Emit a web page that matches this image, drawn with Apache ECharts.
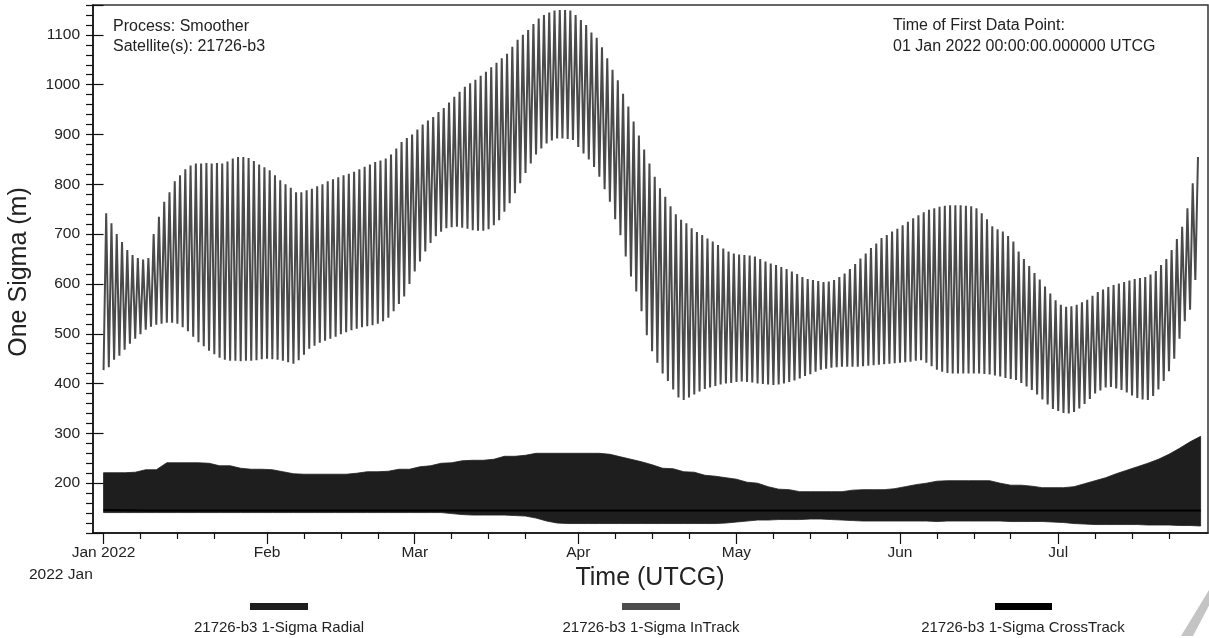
<!DOCTYPE html>
<html><head><meta charset="utf-8">
<script src="https://cdn.jsdelivr.net/npm/echarts@6/dist/echarts.min.js"></script>
<style>html,body{margin:0;padding:0;background:#fff}#c{width:1209px;height:638px}</style>
</head><body><div id="c"></div>
<script>
// ---- axis ticks / labels (x in days since 01 Jan 2022) ----
const monthTickDays = [0, 31, 59, 90, 120, 151, 181];
const monthLabels = ['Jan 2022', 'Feb', 'Mar', 'Apr', 'May', 'Jun', 'Jul'];
const weekTickDays = [7,14,21, 38,45,52, 66,73,80, 97,104,111, 127,134,141, 158,165,172, 188,195,202];
const yLabelValues = [200,300,400,500,600,700,800,900,1000,1100];

// ---- InTrack 1-sigma: daily trough (at day d) and peak (at day d+0.5) ----
const inTrackTroughs = [
427,433,448,456,468,480,490,499,508,514,
518,520,522,522,520,513,505,494,483,475,
466,459,452,448,446,446,445,446,446,447,
449,450,449,448,446,443,440,447,458,470,
476,482,486,490,494,499,503,507,510,513,
515,517,520,525,532,545,560,575,600,625,
645,665,682,696,705,712,714,715,713,711,
708,707,707,710,718,728,745,762,782,802,
823,842,860,872,882,888,892,892,891,889,
875,862,850,835,815,790,765,730,698,655,
615,585,545,497,465,442,420,405,388,372,
367,372,378,384,389,392,395,398,400,401,
403,404,403,402,400,399,398,397,398,400,
403,406,410,415,419,424,428,430,432,433,
434,434,434,434,435,436,437,438,439,440,
441,442,443,444,446,447,442,435,428,424,
421,420,420,420,420,420,420,419,418,416,
414,411,409,407,401,394,387,378,368,358,
349,345,341,340,343,350,359,369,380,386,
392,393,390,387,382,376,371,368,367,375,
388,405,425,450,490,525,548,608];
const inTrackPeaks = [
742,722,700,684,668,658,652,649,652,700,
735,765,784,806,818,830,838,842,842,843,
842,843,842,846,852,855,855,853,847,840,
834,828,818,808,800,793,784,784,788,791,
796,800,806,810,814,818,821,825,830,835,
840,845,848,852,860,872,885,893,900,910,
920,928,935,945,953,964,976,986,996,1003,
1010,1018,1026,1035,1044,1053,1062,1076,1090,1100,
1110,1122,1133,1140,1145,1149,1150,1150,1149,1140,
1130,1120,1105,1094,1075,1053,1030,1009,982,956,
926,898,870,842,815,792,775,756,740,729,
722,712,704,698,691,685,678,671,665,661,
659,658,657,655,650,645,641,638,634,630,
625,620,614,610,608,606,604,605,608,614,
621,630,640,651,661,672,681,692,698,705,
711,718,725,732,738,744,749,752,755,757,
758,758,758,757,756,752,742,730,716,710,
705,696,685,665,650,636,622,609,595,581,
567,558,554,555,558,563,568,576,584,589,
594,598,601,604,607,610,612,614,619,626,
638,650,668,690,715,752,802,855];

// ---- Radial 1-sigma band envelope, every 2 days ----
const radialStepDays = 2;
const radialHigh = [
221,221,221,222,227,227,241,241,241,241,
240,235,235,230,228,228,227,223,219,218,
218,218,218,218,220,223,223,224,228,228,
233,235,240,241,245,246,246,248,254,254,
256,260,260,260,260,260,260,260,258,253,
248,243,237,230,229,223,222,216,214,211,
208,202,200,193,188,187,183,183,183,183,
183,186,187,187,187,189,193,197,200,204,
205,205,205,205,205,200,196,196,194,191,
191,191,193,199,205,211,219,226,233,240,
248,258,270,283,294];
const radialLow = [
141,141,141,141,141,141,141,141,141,141,
141,141,141,141,141,141,141,141,141,141,
141,141,141,141,141,141,141,141,141,141,
141,141,141,139,137,136,136,136,136,135,
134,130,124,120,119,119,119,119,119,119,
119,119,119,119,119,119,119,119,119,120,
122,124,126,126,127,127,127,128,128,127,
126,125,124,124,124,124,124,124,124,123,
124,124,124,124,124,124,123,123,123,123,
122,121,119,118,117,117,117,117,117,116,
116,116,115,115,114];

// ---- CrossTrack 1-sigma, every 8 days ----
const crossStepDays = 8;
const crossTrack = [146,145,145,145,145,145,145,145,145,145,145,145,145,145,145,145,145,145,145,145,145,145,145,145,145,145,145];

// ---- build series data ----
const inTrackData = [];
for (let d = 0; d < inTrackTroughs.length; d++) {
  inTrackData.push([d, inTrackTroughs[d]]);
  inTrackData.push([d + 0.5, inTrackPeaks[d]]);
}
const radialBandData = radialHigh.map((v, i) => [i * radialStepDays, radialLow[i], v]);
const crossData = crossTrack.map((v, i) => [i * crossStepDays, v]);

const FONT = "'Liberation Sans', Arial, sans-serif";
const chart = echarts.init(document.getElementById('c'), null, {renderer: 'canvas'});
const X_MIN = -2, X_MAX = 209.4;

function renderBand(params, api) {
  if (params.dataIndex !== 0) return null;
  const top = [], bottom = [];
  for (let i = 0; i < radialBandData.length; i++) {
    const r = radialBandData[i];
    top.push(api.coord([r[0], r[2]]));
    bottom.push(api.coord([r[0], r[1]]));
  }
  const pts = top.concat(bottom.reverse());
  return {type: 'polygon', shape: {points: pts}, style: {fill: '#1e1e1e', stroke: '#1e1e1e', lineWidth: 0.8}};
}

chart.setOption({
  animation: false,
  backgroundColor: '#fff',
  textStyle: {fontFamily: FONT},
  grid: {left: 93, right: 1, top: 5, bottom: 105, show: true, borderColor: '#333', borderWidth: 1.5, backgroundColor: 'transparent'},
  xAxis: [{
    type: 'value', min: X_MIN, max: X_MAX, position: 'bottom',
    axisLine: {show: true, onZero: false, lineStyle: {color: '#111', width: 1.5}},
    axisTick: {show: true, customValues: monthTickDays, length: 11, lineStyle: {color: '#111', width: 1.2}},
    axisLabel: {show: true, customValues: monthTickDays, margin: 12, fontSize: 15.5, color: '#222', fontFamily: FONT,
      formatter: v => { const i = monthTickDays.indexOf(Math.round(v)); return i >= 0 ? monthLabels[i] : ''; }},
    splitLine: {show: false}
  }, {
    type: 'value', min: X_MIN, max: X_MAX, position: 'bottom',
    axisLine: {show: false},
    axisTick: {show: true, customValues: weekTickDays, length: 6, lineStyle: {color: '#111', width: 1.2}},
    axisLabel: {show: false},
    splitLine: {show: false}
  }],
  yAxis: [{
    type: 'value', min: 100, max: 1160, interval: 20, position: 'left',
    axisLine: {show: true, onZero: false, lineStyle: {color: '#111', width: 1.5}},
    axisTick: {show: true, length: 7, lineStyle: {color: '#111', width: 1.2}},
    axisLabel: {show: true, margin: 13, fontSize: 15.5, color: '#222', fontFamily: FONT,
      formatter: v => yLabelValues.indexOf(v) >= 0 ? String(v) : ''},
    splitLine: {show: false}
  }, {
    type: 'value', min: 100, max: 1160, interval: 100, position: 'left',
    axisLine: {show: false},
    axisTick: {show: true, length: 11, lineStyle: {color: '#111', width: 1.2}},
    axisLabel: {show: false},
    splitLine: {show: false}
  }],
  series: [{
    name: '21726-b3 1-Sigma Radial', type: 'custom', data: radialBandData,
    encode: {x: 0, y: [1, 2]}, renderItem: renderBand, silent: true
  }, {
    name: '21726-b3 1-Sigma InTrack', type: 'line', data: inTrackData,
    symbol: 'none', silent: true, lineStyle: {color: '#4a4a4a', width: 2}
  }, {
    name: '21726-b3 1-Sigma CrossTrack', type: 'line', data: crossData,
    symbol: 'none', silent: true, lineStyle: {color: '#000', width: 2}
  }],
  graphic: [
    {type: 'text', left: 113, top: 19, style: {text: 'Process: Smoother', font: '16px ' + FONT, fill: '#222'}},
    {type: 'text', left: 113, top: 39, style: {text: 'Satellite(s): 21726-b3', font: '16px ' + FONT, fill: '#222'}},
    {type: 'text', left: 893, top: 18, style: {text: 'Time of First Data Point:', font: '16px ' + FONT, fill: '#222'}},
    {type: 'text', left: 893, top: 39, style: {text: '01 Jan 2022 00:00:00.000000 UTCG', font: '16px ' + FONT, fill: '#222'}},
    {type: 'text', x: 29, y: 575, style: {text: '2022 Jan', font: '15.5px ' + FONT, fill: '#222', verticalAlign: 'middle'}},
    {type: 'text', x: 650, y: 578, style: {text: 'Time (UTCG)', font: '25px ' + FONT, fill: '#222', align: 'center', verticalAlign: 'middle'}},
    {type: 'text', x: 19, y: 272, rotation: Math.PI / 2, style: {text: 'One Sigma (m)', font: '25px ' + FONT, fill: '#222', align: 'center', verticalAlign: 'middle'}},
    {type: 'rect', shape: {x: 250, y: 603, width: 58, height: 7}, style: {fill: '#1e1e1e'}},
    {type: 'text', x: 279, y: 628, style: {text: '21726-b3 1-Sigma Radial', font: '15px ' + FONT, fill: '#222', align: 'center', verticalAlign: 'middle'}},
    {type: 'rect', shape: {x: 622, y: 603, width: 58, height: 7}, style: {fill: '#4d4d4d'}},
    {type: 'text', x: 651, y: 628, style: {text: '21726-b3 1-Sigma InTrack', font: '15px ' + FONT, fill: '#222', align: 'center', verticalAlign: 'middle'}},
    {type: 'rect', shape: {x: 995, y: 603, width: 57, height: 7}, style: {fill: '#000'}},
    {type: 'text', x: 1023, y: 628, style: {text: '21726-b3 1-Sigma CrossTrack', font: '15px ' + FONT, fill: '#222', align: 'center', verticalAlign: 'middle'}},
    {type: 'polygon', shape: {points: [[1181, 636], [1193, 636], [1213, 598], [1209, 590]]}, style: {fill: '#c4c4c4'}}
  ]
});
</script></body></html>
